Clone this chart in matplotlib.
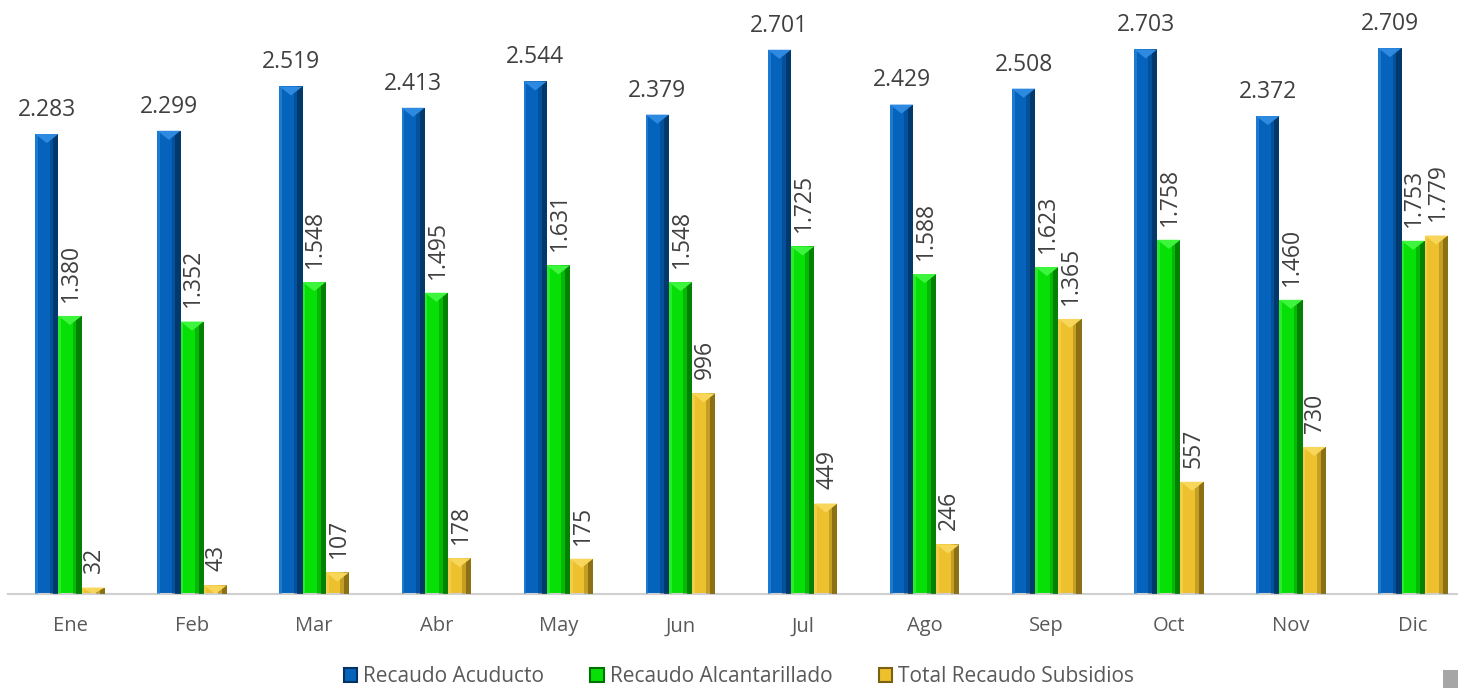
import numpy as np
import matplotlib.pyplot as plt
from matplotlib.patches import Polygon, Rectangle

plt.rcParams['font.family'] = ['Open Sans', 'DejaVu Sans']

meses = ['Ene', 'Feb', 'Mar', 'Abr', 'May', 'Jun', 'Jul', 'Ago', 'Sep', 'Oct', 'Nov', 'Dic']
acueducto      = [2283, 2299, 2519, 2413, 2544, 2379, 2701, 2429, 2508, 2703, 2372, 2709]
alcantarillado = [1380, 1352, 1548, 1495, 1631, 1548, 1725, 1588, 1623, 1758, 1460, 1753]
subsidios      = [32, 43, 107, 178, 175, 996, 449, 246, 1365, 557, 730, 1779]

series  = ['Recaudo Acuducto', 'Recaudo Alcantarillado', 'Total Recaudo Subsidios']
colores = ['#0563BC', '#07E007', '#EDC02E']
oscuros = ['#02325F', '#037003', '#7A6210']
claros  = ['#2E8AE0', '#3DF53D', '#F8D65A']

def fmt(v):
    return f'{v:,}'.replace(',', '.')

fig = plt.figure(figsize=(14.58, 6.88), dpi=100)
ax = fig.add_axes([8/1458, 94/688, 1450/1458, 594/688])

x = np.arange(len(meses))
w = 0.19
datos = [acueducto, alcantarillado, subsidios]
tri = 45  # alto del triangulo superior en unidades de datos

for k, vals in enumerate(datos):
    pos = x + (k - 1) * w
    bars = ax.bar(pos, vals, width=w, color=colores[k], edgecolor='none', zorder=2)
    for b, v in zip(bars, vals):
        x0, bw, h = b.get_x(), b.get_width(), b.get_height()
        # borde derecho oscuro y borde izquierdo claro (efecto bisel)
        ax.add_patch(Rectangle((x0 + bw * 0.78, 0), bw * 0.22, h, color=oscuros[k], lw=0, zorder=3, alpha=0.85))
        ax.add_patch(Rectangle((x0 + bw * 0.62, 0), bw * 0.16, h, color=oscuros[k], lw=0, zorder=3, alpha=0.35))
        ax.add_patch(Rectangle((x0, 0), bw * 0.12, h, color=claros[k], lw=0, zorder=3, alpha=0.6))
        t = min(tri, h)
        ax.add_patch(Polygon([(x0, h), (x0 + bw, h), (x0 + bw / 2, h - t)],
                             closed=True, color=claros[k], lw=0, zorder=4))
        if k == 0:
            ax.text(x0 + bw / 2, h + 60, fmt(v), ha='center', va='bottom',
                    fontsize=16.5, color='#404040')
        else:
            ax.text(x0 + bw / 2 + 0.01, h + 70, fmt(v), ha='center', va='bottom',
                    rotation=90, fontsize=16.5, color='#404040')

ax.set_xlim((8 - 70) / 122.1, (1458 - 70) / 122.1)
ax.set_ylim(0, 2948)
ax.set_xticks(x)
ax.set_xticklabels(meses, fontsize=14.5, color='#595959')
ax.tick_params(axis='x', length=0, pad=16)
ax.set_yticks([])
for s in ['top', 'right', 'left']:
    ax.spines[s].set_visible(False)
ax.spines['bottom'].set_color('#D0D0D0')
ax.spines['bottom'].set_linewidth(1.5)

handles = [Rectangle((0, 0), 1, 1, facecolor=colores[k], edgecolor=oscuros[k], lw=1.5) for k in range(3)]
fig.legend(handles, series, loc='center', bbox_to_anchor=(739/1458, 1 - 677/688), ncol=3,
           frameon=False, fontsize=15, labelcolor='#595959', handlelength=0.65, handleheight=0.65,
           handletextpad=0.3, columnspacing=2.2)

fig.patches.append(Rectangle((1443/1458, 0), 15/1458, 18/688, transform=fig.transFigure,
                             facecolor='#A6A6A6', edgecolor='none'))

fig.savefig('out.png', dpi=100)
